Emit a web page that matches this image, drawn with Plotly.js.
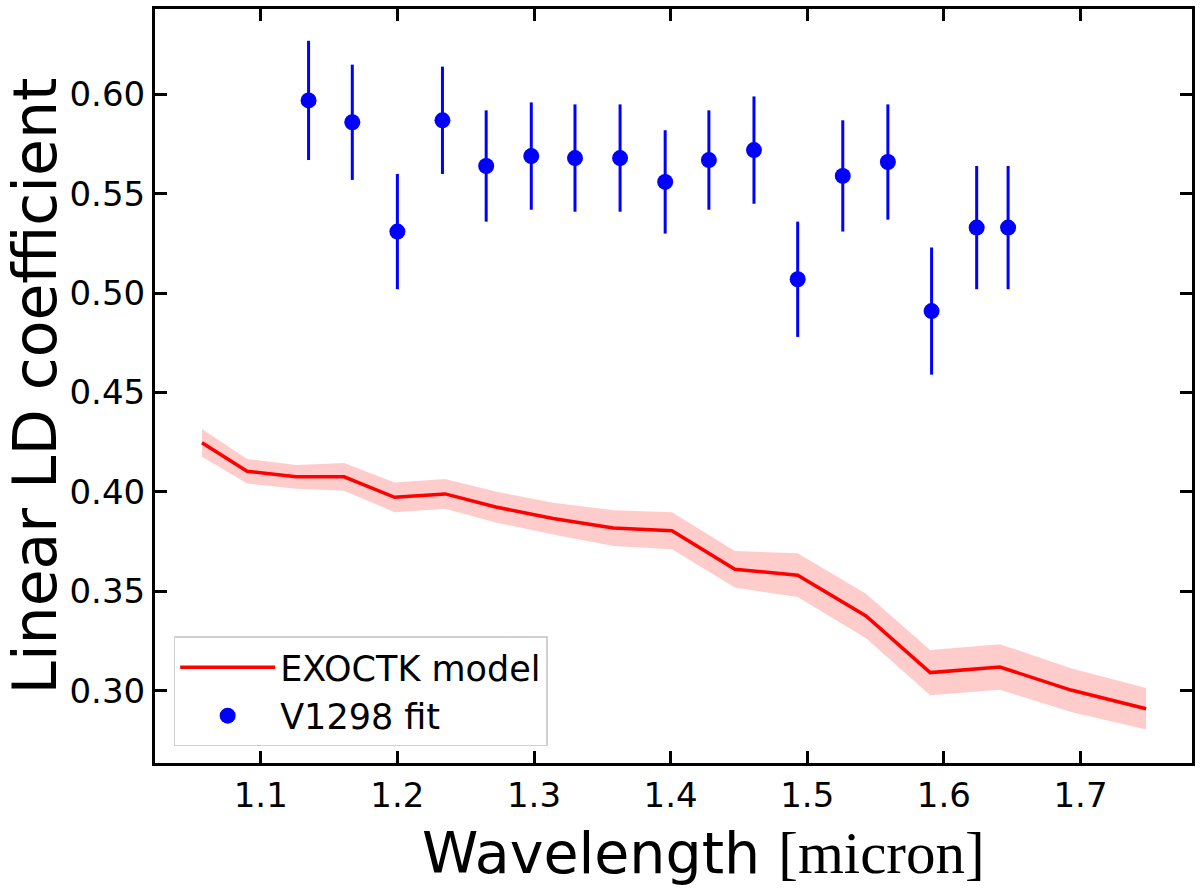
<!DOCTYPE html>
<html>
<head>
<meta charset="utf-8">
<script src="https://cdn.plot.ly/plotly-3.0.1.min.js"></script>
<style>
  body { margin: 0; background: #ffffff; }
  #chart { width: 1200px; height: 892px; }
</style>
</head>
<body>
<div id="chart"></div>
<script>
// V1298 fitted linear LD coefficients per spectral bin
const fitWave = [1.135, 1.167, 1.200, 1.233, 1.265, 1.298, 1.330, 1.363, 1.396,
                 1.428, 1.461, 1.493, 1.526, 1.559, 1.591, 1.624, 1.647];
const fitLd = [0.597, 0.586, 0.531, 0.587, 0.564, 0.569, 0.568, 0.568, 0.556,
               0.567, 0.572, 0.507, 0.559, 0.566, 0.491, 0.533, 0.533];
const fitErr = [0.030, 0.029, 0.029, 0.027, 0.028, 0.027, 0.027, 0.027, 0.026,
                0.025, 0.027, 0.029, 0.028, 0.029, 0.032, 0.031, 0.031];

// EXOCTK model curve and its uncertainty
const modelWave = [1.057, 1.090, 1.126, 1.161, 1.198, 1.235, 1.272, 1.314, 1.358,
                   1.401, 1.447, 1.493, 1.543, 1.590, 1.641, 1.693, 1.748];
const modelLd = [0.4247, 0.4104, 0.4076, 0.4076, 0.3973, 0.3990, 0.3924, 0.3866, 0.3818,
                 0.3805, 0.3611, 0.3581, 0.3376, 0.3091, 0.3119, 0.3003, 0.2909];
const modelErr = [0.0070, 0.0062, 0.0060, 0.0070, 0.0075, 0.0075, 0.0078, 0.0080, 0.0090,
                  0.0093, 0.0092, 0.0110, 0.0112, 0.0114, 0.0115, 0.0110, 0.0105];

const modelLow = modelLd.map((v, i) => v - modelErr[i]);
const modelHigh = modelLd.map((v, i) => v + modelErr[i]);

const font = 'DejaVu Sans, sans-serif';

var data = [
  {
    x: modelWave, y: modelLow,
    type: 'scatter', mode: 'lines',
    line: { width: 0, color: 'rgba(255,0,0,0)' },
    showlegend: false, hoverinfo: 'skip'
  },
  {
    x: modelWave, y: modelHigh,
    type: 'scatter', mode: 'lines',
    fill: 'tonexty', fillcolor: 'rgba(255,0,0,0.2)',
    line: { width: 0, color: 'rgba(255,0,0,0)' },
    showlegend: false, hoverinfo: 'skip'
  },
  {
    x: modelWave, y: modelLd,
    type: 'scatter', mode: 'lines',
    name: 'EXOCTK model',
    line: { color: '#ff0000', width: 3.5 }
  },
  {
    x: fitWave, y: fitLd,
    type: 'scatter', mode: 'markers',
    name: 'V1298 fit',
    marker: { color: '#0000ff', size: 16 },
    error_y: { type: 'data', array: fitErr, visible: true, color: '#0000ff', thickness: 3, width: 0 }
  }
];

var layout = {
  width: 1200,
  height: 892,
  paper_bgcolor: '#ffffff',
  plot_bgcolor: '#ffffff',
  margin: { l: 155, r: 8, t: 9, b: 129 },
  font: { family: font, color: '#000000' },
  showlegend: true,
  legend: {
    x: 0.018, y: 0.022, xanchor: 'left', yanchor: 'bottom',
    traceorder: 'normal',
    bgcolor: '#ffffff', bordercolor: '#d0d0d0', borderwidth: 1.5,
    font: { family: font, size: 35, color: '#000000' },
    itemwidth: 95,
    tracegroupgap: 0
  },
  xaxis: {
    range: [1.0226, 1.7816],
    tick0: 1.0, dtick: 0.1, tickformat: '.1f',
    ticks: 'inside', ticklen: 12, tickwidth: 3, tickcolor: '#000000',
    showline: true, linewidth: 3, linecolor: '#000000', mirror: 'ticks',
    showgrid: false, zeroline: false,
    tickfont: { family: font, size: 34, color: '#000000' }
  },
  yaxis: {
    range: [0.2636, 0.6430],
    tick0: 0.30, dtick: 0.05, tickformat: '.2f',
    ticks: 'inside', ticklen: 12, tickwidth: 3, tickcolor: '#000000',
    showline: true, linewidth: 3, linecolor: '#000000', mirror: 'ticks',
    showgrid: false, zeroline: false,
    tickfont: { family: font, size: 34, color: '#000000' },
    title: {
      text: 'Linear LD coefficient',
      font: { family: font, size: 60, color: '#000000' },
      standoff: 15
    }
  },
  annotations: [{
    // x-axis title, placed as an annotation so it can sit a bit right of centre
    text: 'Wavelength <span style="font-family:Liberation Serif;font-size:59px">[micron]</span>',
    xref: 'paper', yref: 'paper', x: 0.5, y: 0,
    xanchor: 'center', yanchor: 'middle',
    xshift: 30, yshift: -90,
    showarrow: false,
    font: { family: font, size: 57, color: '#000000' }
  }]
};

Plotly.newPlot('chart', data, layout, { displayModeBar: false });
</script>
</body>
</html>
